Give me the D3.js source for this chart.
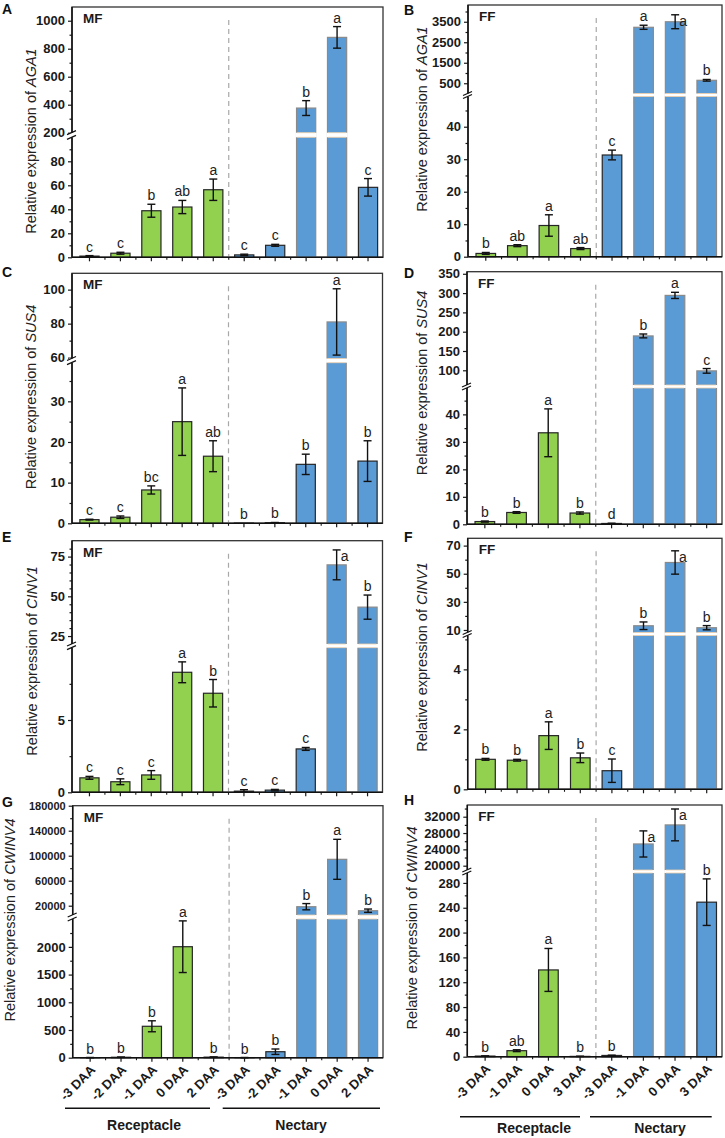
<!DOCTYPE html>
<html>
<head>
<meta charset="utf-8">
<script src="https://cdnjs.cloudflare.com/ajax/libs/d3/7.8.5/d3.min.js"></script>
<style>
body { margin: 0; background: #fff; }
svg text { font-family: "Liberation Sans", Arial, sans-serif; }
</style>
</head>
<body>
<svg id="fig" width="725" height="1138"></svg>
<script>
// categories
var catsMF = ['-3 DAA', '-2 DAA', '-1 DAA', '0 DAA', '2 DAA', '-3 DAA', '-2 DAA', '-1 DAA', '0 DAA', '2 DAA'];
var tissueMF = ['Receptacle', 'Receptacle', 'Receptacle', 'Receptacle', 'Receptacle', 'Nectary', 'Nectary', 'Nectary', 'Nectary', 'Nectary'];
var catsFF = ['-3 DAA', '-1 DAA', '0 DAA', '3 DAA', '-3 DAA', '-1 DAA', '0 DAA', '3 DAA'];
var tissueFF = ['Receptacle', 'Receptacle', 'Receptacle', 'Receptacle', 'Nectary', 'Nectary', 'Nectary', 'Nectary'];
var groups = ['Receptacle', 'Nectary'];

// A - AGA1 MF
var aga1MF = [1.0, 3.4, 38.8, 41.9, 56.3, 2.0, 10.0, 376, 881, 58.3];
var aga1MFErr = [0.4, 0.8, 5.4, 5.5, 8.9, 0.6, 0.8, 53, 77, 7.3];
var aga1MFSig = ['c', 'c', 'b', 'ab', 'a', 'c', 'c', 'b', 'a', 'c'];
// B - AGA1 FF
var aga1FF = [1.0, 3.4, 9.6, 2.5, 31.3, 3230, 3500, 644];
var aga1FFErr = [0.3, 0.3, 3.3, 0.3, 1.5, 100, 340, 40];
var aga1FFSig = ['b', 'ab', 'a', 'ab', 'c', 'a', 'a', 'b'];
// C - SUS4 MF
var sus4MF = [0.9, 1.5, 8.2, 25.0, 16.5, 0.05, 0.15, 14.5, 81, 15.3];
var sus4MFErr = [0.1, 0.3, 1.0, 8.3, 3.8, 0, 0.05, 2.5, 19.5, 5.0];
var sus4MFSig = ['c', 'c', 'bc', 'a', 'ab', 'b', 'b', 'b', 'a', 'b'];
// D - SUS4 FF
var sus4FF = [1.0, 4.3, 33.3, 4.1, 0.3, 189, 294, 98.5];
var sus4FFErr = [0.2, 0.3, 8.7, 0.4, 0.1, 5, 8, 6];
var sus4FFSig = ['b', 'b', 'a', 'b', 'd', 'b', 'a', 'c'];
// E - CINV1 MF
var cinv1MF = [1.0, 0.73, 1.2, 8.3, 6.85, 0.08, 0.15, 3.0, 69.8, 43.2];
var cinv1MFErr = [0.1, 0.2, 0.3, 0.72, 0.95, 0.1, 0.05, 0.1, 9.4, 7.6];
var cinv1MFSig = ['c', 'c', 'c', 'a', 'b', 'c', 'c', 'c', 'a', 'b'];
// F - CINV1 FF
var cinv1FF = [1.0, 0.97, 1.79, 1.05, 0.62, 13, 58, 11.6];
var cinv1FFErr = [0.03, 0.03, 0.46, 0.16, 0.39, 2.7, 8.3, 1.5];
var cinv1FFSig = ['b', 'b', 'a', 'b', 'c', 'b', 'a', 'b'];
// G - CWINV4 MF
var cwinv4MF = [2, 8, 567, 2003, 10, 2, 108, 18400, 94200, 12000];
var cwinv4MFErr = [1, 3, 99, 466, 4, 1, 49, 5000, 32000, 2650];
var cwinv4MFSig = ['b', 'b', 'b', 'a', 'b', 'b', 'b', 'b', 'a', 'b'];
// H - CWINV4 FF
var cwinv4FF = [1, 9.7, 139.8, 0.5, 2, 25325, 29990, 249];
var cwinv4FFErr = [0.3, 1.5, 34.6, 0.2, 0.5, 3200, 3900, 37.5];
var cwinv4FFSig = ['b', 'ab', 'a', 'b', 'b', 'a', 'a', 'b'];

// tick values (lower / upper segment of each broken axis)
var aTicksLow = [0, 20, 40, 60, 80], aMinorLow = [10, 30, 50, 70, 90];
var aTicksUp = [200, 400, 600, 800, 1000], aMinorUp = [300, 500, 700, 900];
var bTicksLow = [0, 10, 20, 30, 40], bMinorLow = [5, 15, 25, 35, 45];
var bTicksUp = [500, 1500, 2500, 3500], bMinorUp = [1000, 2000, 3000, 4000];
var cTicksLow = [0, 10, 20, 30], cMinorLow = [5, 15, 25, 35];
var cTicksUp = [60, 80, 100], cMinorUp = [70, 90];
var dTicksLow = [0, 10, 20, 30, 40], dMinorLow = [5, 15, 25, 35, 45];
var dTicksUp = [100, 150, 200, 250, 300, 350], dMinorUp = [];
var eTicksLow = [0, 5], eMinorLow = [2.5, 7.5];
var eTicksUp = [25, 50, 75], eMinorUp = [30, 35, 40, 45, 55, 60, 65, 70, 80];
var fTicksLow = [0, 2, 4], fMinorLow = [1, 3, 5];
var fTicksUp = [10, 30, 50, 70], fMinorUp = [20, 40, 60];
var gTicksLow = [0, 500, 1000, 1500, 2000], gMinorLow = [250, 750, 1250, 1750, 2250];
var gTicksUp = [20000, 60000, 100000, 140000, 180000], gMinorUp = [40000, 80000, 120000, 160000];
var hTicksLow = [0, 40, 80, 120, 160, 200, 240, 280], hMinorLow = [20, 60, 100, 140, 180, 220, 260];
var hTicksUp = [20000, 24000, 28000, 32000], hMinorUp = [22000, 26000, 30000, 34000];

var GREEN = '#92d050';
var BLUE = '#5b9bd5';

var svg = d3.select('#fig');

// panel layout
var panels = [
    { letter: 'A', tag: 'MF', gene: 'AGA1', cats: catsMF, tissue: tissueMF, vals: aga1MF, err: aga1MFErr, sig: aga1MFSig,
      x0: 72, x1: 383, top: 7, bottom: 257.3, lowMax: 100, breakLo: 137.3, upMin: 200, breakHi: 132.7, upMax: 1098,
      tl: aTicksLow, ml: aMinorLow, tu: aTicksUp, mu: aMinorUp, labX: 36, labY: 141, letX: 2, letY: 14 },
    { letter: 'B', tag: 'FF', gene: 'AGA1', cats: catsFF, tissue: tissueFF, vals: aga1FF, err: aga1FFErr, sig: aga1FFSig,
      x0: 468, x1: 722, top: 5, bottom: 256.7, lowMax: 49.3, breakLo: 96.5, upMin: 0, breakHi: 93.5, upMax: 4317,
      tl: bTicksLow, ml: bMinorLow, tu: bTicksUp, mu: bMinorUp, labX: 427, labY: 119, letX: 404, letY: 15 },
    { letter: 'C', tag: 'MF', gene: 'SUS4', cats: catsMF, tissue: tissueMF, vals: sus4MF, err: sus4MFErr, sig: sus4MFSig,
      x0: 72, x1: 382.5, top: 273.3, bottom: 523.3, lowMax: 39.5, breakLo: 362.7, upMin: 59.5, breakHi: 358.5, upMax: 109.6,
      tl: cTicksLow, ml: cMinorLow, tu: cTicksUp, mu: cMinorUp, labX: 36, labY: 397, letX: 2, letY: 277 },
    { letter: 'D', tag: 'FF', gene: 'SUS4', cats: catsFF, tissue: tissueFF, vals: sus4FF, err: sus4FFErr, sig: sus4FFSig,
      x0: 467, x1: 722, top: 271.7, bottom: 524.3, lowMax: 49.6, breakLo: 388, upMin: 61.9, breakHi: 385, upMax: 355.4,
      tl: dTicksLow, ml: dMinorLow, tu: dTicksUp, mu: dMinorUp, labX: 427, labY: 383, letX: 404, letY: 278 },
    { letter: 'E', tag: 'MF', gene: 'CINV1', cats: catsMF, tissue: tissueMF, vals: cinv1MF, err: cinv1MFErr, sig: cinv1MFSig,
      x0: 72, x1: 382.5, top: 540.7, bottom: 792.3, lowMax: 10, breakLo: 647.7, upMin: 20, breakHi: 644, upMax: 85,
      tl: eTicksLow, ml: eMinorLow, tu: eTicksUp, mu: eMinorUp, labX: 37, labY: 661, letX: 2, letY: 542 },
    { letter: 'F', tag: 'FF', gene: 'CINV1', cats: catsFF, tissue: tissueFF, vals: cinv1FF, err: cinv1FFErr, sig: cinv1FFSig,
      x0: 467.7, x1: 722, top: 538.3, bottom: 789.3, lowMax: 5.13, breakLo: 635.5, upMin: 8.2, breakHi: 632.5, upMax: 75.2,
      tl: fTicksLow, ml: fMinorLow, tu: fTicksUp, mu: fMinorUp, labX: 427, labY: 657, letX: 404, letY: 542 },
    { letter: 'G', tag: 'MF', gene: 'CWINV4', cats: catsMF, tissue: tissueMF, vals: cwinv4MF, err: cwinv4MFErr, sig: cwinv4MFSig,
      x0: 72.7, x1: 383, top: 805.7, bottom: 1057.7, lowMax: 2503, breakLo: 919, upMin: 5120, breakHi: 915, upMax: 180000,
      tl: gTicksLow, ml: gMinorLow, tu: gTicksUp, mu: gMinorUp, labX: 15, labY: 920, letX: 2, letY: 807, upFont: 11,
      showCats: true, lineY: 1108.3, textY: 1129.5,
      glines: [[65, 210, 144], [222.7, 380, 301]] },
    { letter: 'H', tag: 'FF', gene: 'CWINV4', cats: catsFF, tissue: tissueFF, vals: cwinv4FF, err: cwinv4FFErr, sig: cwinv4FFSig,
      x0: 467.3, x1: 722, top: 805, bottom: 1056.7, lowMax: 296, breakLo: 873, upMin: 18945, breakHi: 870, upMax: 34870,
      tl: hTicksLow, ml: hMinorLow, tu: hTicksUp, mu: hMinorUp, labX: 417, labY: 928, letX: 404, letY: 805,
      sigRight: [5], showCats: true, lineY: 1116.7, textY: 1133,
      glines: [[460, 580, 534], [590, 711.7, 660]] }
];

function styleAxis(ax, fontSize) {
    ax.select('.domain').remove();
    ax.selectAll('line').attr('stroke', '#1a1a1a').attr('stroke-width', 1.2);
    ax.selectAll('text')
        .attr('font-size', fontSize)
        .attr('font-weight', 'bold')
        .attr('fill', '#1a1a1a')
        .style('font-family', '"Liberation Sans", Arial, sans-serif');
}

function drawPanel(p) {
    var g = svg.append('g');
    var n = p.cats.length;
    var nRec = p.tissue.filter(function (t) { return t === groups[0]; }).length;

    var x = d3.scaleBand().domain(d3.range(n))
        .range([p.x0 + 2, p.x1 + 0.5])
        .paddingInner(0.38).paddingOuter(0.19);
    var yLow = d3.scaleLinear().domain([0, p.lowMax]).range([p.bottom, p.breakLo]);
    var yUp = d3.scaleLinear().domain([p.upMin, p.upMax]).range([p.breakHi, p.top]);
    var y = function (v) { return v <= p.lowMax ? yLow(v) : yUp(v); };
    var cx = function (i) { return x(i) + x.bandwidth() / 2; };

    // frame
    g.append('rect')
        .attr('x', p.x0).attr('y', p.top)
        .attr('width', p.x1 - p.x0).attr('height', p.bottom - p.top)
        .attr('fill', 'none').attr('stroke', '#333').attr('stroke-width', 1.3);

    // dashed divider between receptacle and nectary
    var step = x.step();
    var divX = x(nRec) - (step - x.bandwidth()) / 2;
    g.append('line')
        .attr('x1', divX).attr('x2', divX)
        .attr('y1', p.top + 13).attr('y2', p.bottom)
        .attr('stroke', '#a8a8a8').attr('stroke-width', 1.2)
        .attr('stroke-dasharray', '5,4');

    // bars
    g.selectAll('rect.bar').data(p.vals).join('rect')
        .attr('class', 'bar')
        .attr('x', function (d, i) { return x(i); })
        .attr('width', x.bandwidth())
        .attr('y', function (d) { return y(d); })
        .attr('height', function (d) { return p.bottom - y(d); })
        .attr('fill', function (d, i) { return p.tissue[i] === groups[0] ? GREEN : BLUE; })
        .attr('stroke', function (d) { return d > p.lowMax ? '#8a8a8a' : '#262626'; })
        .attr('stroke-width', 1.2);

    // break stripes on bars that cross the gap
    var broken = p.vals.map(function (d, i) { return { v: d, i: i }; })
        .filter(function (o) { return o.v > p.lowMax; });
    g.selectAll('rect.stripe').data(broken).join('rect')
        .attr('class', 'stripe')
        .attr('x', function (o) { return x(o.i) - 1; })
        .attr('width', x.bandwidth() + 2)
        .attr('y', p.breakHi)
        .attr('height', p.breakLo - p.breakHi)
        .attr('fill', '#fff');
    [p.breakHi, p.breakLo].forEach(function (yy) {
        g.selectAll(null).data(broken).join('line')
            .attr('x1', function (o) { return x(o.i) + 0.6; })
            .attr('x2', function (o) { return x(o.i) + x.bandwidth() - 0.6; })
            .attr('y1', yy).attr('y2', yy)
            .attr('stroke', '#f3cfa6').attr('stroke-width', 0.8);
    });

    // error bars
    var eb = g.append('g').attr('stroke', '#111').attr('stroke-width', 1.4);
    p.vals.forEach(function (d, i) {
        var e = p.err[i];
        if (!e) return;
        var yt = y(d + e), yb = y(Math.max(0, d - e));
        eb.append('line').attr('x1', cx(i)).attr('x2', cx(i)).attr('y1', yt).attr('y2', yb);
        eb.append('line').attr('x1', cx(i) - 4).attr('x2', cx(i) + 4).attr('y1', yt).attr('y2', yt);
        eb.append('line').attr('x1', cx(i) - 4).attr('x2', cx(i) + 4).attr('y1', yb).attr('y2', yb);
    });

    // significance letters
    var right = p.sigRight || [];
    g.selectAll('text.sig').data(p.sig).join('text')
        .attr('class', 'sig')
        .each(function (s, i) {
            var yt = y(p.vals[i] + p.err[i]);
            var t = d3.select(this);
            if (yt - p.top < 14 || right.indexOf(i) >= 0) {
                t.attr('x', cx(i) + 4).attr('y', yt + 11).attr('text-anchor', 'start');
            } else {
                t.attr('x', cx(i)).attr('y', yt - 4).attr('text-anchor', 'middle');
            }
        })
        .attr('font-size', 14).attr('fill', '#222')
        .text(function (s) { return s; });

    // y axis (two segments)
    var axLow = g.append('g').attr('transform', 'translate(' + p.x0 + ',0)')
        .call(d3.axisLeft(yLow).tickValues(p.tl).tickSize(4).tickPadding(3).tickFormat(d3.format('')));
    styleAxis(axLow, 13);
    var axUp = g.append('g').attr('transform', 'translate(' + p.x0 + ',0)')
        .call(d3.axisLeft(yUp).tickValues(p.tu).tickSize(4).tickPadding(3).tickFormat(d3.format('')));
    styleAxis(axUp, p.upFont || 13);
    var mLow = g.append('g').attr('transform', 'translate(' + p.x0 + ',0)')
        .call(d3.axisLeft(yLow).tickValues(p.ml.filter(function (v) { return v <= p.lowMax; })).tickSize(2.5).tickFormat(''));
    styleAxis(mLow, 13);
    var mUp = g.append('g').attr('transform', 'translate(' + p.x0 + ',0)')
        .call(d3.axisLeft(yUp).tickValues(p.mu.filter(function (v) { return v <= p.upMax; })).tickSize(2.5).tickFormat(''));
    styleAxis(mUp, 13);

    g.append('line')
        .attr('x1', p.x0).attr('x2', p.x0).attr('y1', p.top).attr('y2', p.bottom)
        .attr('stroke', '#111').attr('stroke-width', 1.5);
    // axis break mark
    g.append('rect')
        .attr('x', p.x0 - 3).attr('y', p.breakHi)
        .attr('width', 6).attr('height', p.breakLo - p.breakHi)
        .attr('fill', '#fff');
    [p.breakHi, p.breakLo].forEach(function (yy) {
        g.append('line')
            .attr('x1', p.x0 - 5).attr('y1', yy + 2)
            .attr('x2', p.x0 + 4).attr('y2', yy - 2)
            .attr('stroke', '#111').attr('stroke-width', 1.3);
    });

    // x axis
    var axX = g.append('g').attr('transform', 'translate(0,' + p.bottom + ')')
        .call(d3.axisBottom(x).tickSize(4).tickFormat(''));
    styleAxis(axX, 13);
    g.selectAll(null).data(d3.range(1, n)).join('line')
        .attr('x1', function (i) { return x(i) - (step - x.bandwidth()) / 2; })
        .attr('x2', function (i) { return x(i) - (step - x.bandwidth()) / 2; })
        .attr('y1', p.bottom).attr('y2', p.bottom + 2.5)
        .attr('stroke', '#1a1a1a').attr('stroke-width', 1.1);
    g.append('line')
        .attr('x1', p.x0).attr('x2', p.x1).attr('y1', p.bottom).attr('y2', p.bottom)
        .attr('stroke', '#111').attr('stroke-width', 1.5);

    if (p.showCats) {
        g.selectAll('text.cat').data(p.cats).join('text')
            .attr('class', 'cat')
            .attr('transform', function (c, i) {
                return 'translate(' + (cx(i) + 6) + ',' + (p.bottom + 13) + ') rotate(-45)';
            })
            .attr('text-anchor', 'end')
            .attr('font-size', 13).attr('font-weight', 'bold').attr('fill', '#1a1a1a')
            .text(function (c) { return c; });
        p.glines.forEach(function (gl, k) {
            g.append('line')
                .attr('x1', gl[0]).attr('x2', gl[1]).attr('y1', p.lineY).attr('y2', p.lineY)
                .attr('stroke', '#111').attr('stroke-width', 1.5);
            g.append('text')
                .attr('x', gl[2]).attr('y', p.textY)
                .attr('text-anchor', 'middle')
                .attr('font-size', 14).attr('font-weight', 'bold').attr('fill', '#1a1a1a')
                .text(groups[k]);
        });
    }

    // MF / FF tag
    g.append('text')
        .attr('x', p.x0 + 11).attr('y', p.top + 16)
        .attr('font-size', 13.5).attr('font-weight', 'bold').attr('fill', '#1a1a1a')
        .text(p.tag);

    // y title
    var yt = g.append('text')
        .attr('transform', 'translate(' + p.labX + ',' + p.labY + ') rotate(-90)')
        .attr('text-anchor', 'middle')
        .attr('font-size', 14.5).attr('fill', '#222');
    yt.append('tspan').text('Relative expression of ');
    yt.append('tspan').attr('font-style', 'italic').text(p.gene);

    // panel letter
    g.append('text')
        .attr('x', p.letX).attr('y', p.letY)
        .attr('font-size', 14).attr('font-weight', 'bold').attr('fill', '#111')
        .text(p.letter);
}

panels.forEach(drawPanel);
</script>
</body>
</html>
